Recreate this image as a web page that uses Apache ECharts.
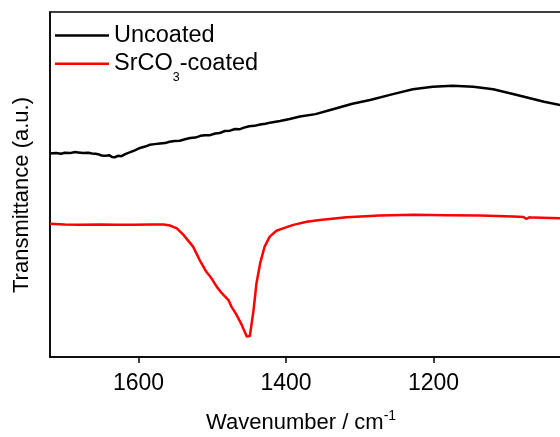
<!DOCTYPE html>
<html>
<head>
<meta charset="utf-8">
<script src="https://cdn.jsdelivr.net/npm/echarts@6/dist/echarts.min.js"></script>
<style>html,body{margin:0;padding:0;background:#fff;}#c{width:560px;height:437px;}</style>
</head>
<body>
<div id="c"></div>
<script>
const FONT = 'Liberation Sans, Arial, sans-serif';
const seriesNames = ['Uncoated', 'SrCO3-coated'];
const xTicks = [1600, 1400, 1200];
const uncoatedWn = [1720, 1712, 1705, 1700, 1693, 1686, 1682, 1675, 1668, 1663, 1658, 1655, 1650, 1645, 1640, 1636, 1632, 1628, 1623, 1618, 1612, 1605, 1598, 1591, 1585, 1578, 1571, 1564, 1558, 1551, 1544, 1537, 1530, 1523, 1516, 1510, 1503, 1496, 1490, 1483, 1476, 1469, 1463, 1458, 1450, 1443, 1435, 1428, 1420, 1408, 1395, 1381, 1360, 1340, 1310, 1286, 1255, 1228, 1201, 1174, 1146, 1119, 1095, 1069, 1050, 1028, 1010];
const uncoatedT = [59.0, 59.1, 58.9, 59.2, 59.1, 59.4, 59.3, 59.1, 59.2, 59.0, 58.9, 58.8, 58.4, 58.3, 58.5, 58.0, 57.9, 58.3, 58.2, 58.8, 59.3, 59.9, 60.6, 61.0, 61.5, 61.7, 61.9, 62.0, 62.4, 62.6, 62.7, 63.1, 63.5, 63.6, 64.1, 64.3, 64.3, 64.8, 64.9, 65.5, 65.6, 66.1, 66.0, 66.4, 66.9, 67.0, 67.4, 67.6, 68.0, 68.4, 69.0, 69.7, 70.4, 71.6, 73.4, 74.5, 76.2, 77.6, 78.3, 78.6, 78.3, 77.6, 76.4, 75.0, 74.0, 73.0, 72.2];
const coatedWn = [1720, 1700, 1680, 1652, 1630, 1607, 1584, 1566, 1557, 1548, 1539, 1526, 1517, 1508, 1501, 1494, 1487, 1478, 1474, 1467, 1460, 1453, 1449, 1444, 1440, 1435, 1429, 1422, 1413, 1404, 1390, 1372, 1354, 1318, 1273, 1227, 1182, 1137, 1092, 1078, 1074, 1070, 1065, 1028, 1010];
const coatedT = [38.6, 38.4, 38.3, 38.4, 38.3, 38.3, 38.4, 38.4, 38.1, 37.3, 35.4, 32.0, 28.1, 24.7, 22.8, 20.4, 18.5, 16.5, 14.6, 12.2, 9.3, 5.9, 6.1, 13.6, 21.4, 27.2, 32.0, 34.9, 36.6, 37.3, 38.3, 39.2, 39.7, 40.5, 41.0, 41.2, 41.1, 41.0, 40.7, 40.6, 40.0, 40.5, 40.4, 40.2, 40.1];

const zip = (a, b) => a.map((v, i) => [v, b[i]]);
const chart = echarts.init(document.getElementById('c'), null, {renderer: 'canvas'});
chart.setOption({
  animation: false,
  backgroundColor: '#fff',
  grid: {left: 50, top: 12, bottom: 80, right: -21, show: true, borderColor: '#000', borderWidth: 1.5,
    containLabel: false, outerBoundsMode: 'none'},
  legend: {
    orient: 'vertical', left: 55, top: 23.5, padding: 0, itemGap: -4.3,
    itemWidth: 54, itemHeight: 2.5, icon: 'rect',
    data: seriesNames,
    formatter: function (name) {
      if (name === 'SrCO3-coated') return '{n|SrCO}{s|3}{n|-coated}';
      return '{n|' + name + '}';
    },
    textStyle: {
      fontFamily: FONT, fontSize: 23.5, color: '#000',
      rich: {
        n: {fontFamily: FONT, fontSize: 23.5, lineHeight: 26, color: '#000'},
        s: {fontFamily: FONT, fontSize: 12.5, lineHeight: 12, padding: [28, 0, 0, 0], color: '#000'}
      }
    }
  },
  xAxis: {
    type: 'value', inverse: true, min: 1000, max: 1720, interval: 200,
    axisLine: {show: true, onZero: false, lineStyle: {color: '#000', width: 1.5}},
    axisTick: {show: true, inside: false, length: 6, lineStyle: {color: '#000', width: 1.5}},
    axisLabel: {fontFamily: FONT, fontSize: 23, color: '#000', margin: 15, showMinLabel: false, showMaxLabel: false,
      formatter: v => (xTicks.indexOf(v) >= 0 ? String(v) : '')},
    splitLine: {show: false}
  },
  yAxis: {
    type: 'value', min: 0, max: 100,
    axisLine: {show: true, lineStyle: {color: '#000', width: 1.5}},
    axisTick: {show: false}, axisLabel: {show: false}, splitLine: {show: false}
  },
  graphic: [
    {type: 'text', left: 206, top: 409, style: {
      text: '{a|Wavenumber / cm}{b|-1}',
      rich: {
        a: {fontFamily: FONT, fontSize: 22, lineHeight: 28, fill: '#000'},
        b: {fontFamily: FONT, fontSize: 14, lineHeight: 14, verticalAlign: 'top', fill: '#000'}
      }
    }},
    {type: 'text', x: 22, y: 195, rotation: Math.PI / 2, style: {
      text: 'Transmittance (a.u.)', fontFamily: FONT, fontSize: 22, fill: '#000', align: 'center', verticalAlign: 'middle'
    }}
  ],
  series: [
    {name: seriesNames[0], type: 'line', data: zip(uncoatedWn, uncoatedT), showSymbol: false, symbol: 'none',
      lineStyle: {color: '#000', width: 2.5}, itemStyle: {color: '#000'}},
    {name: seriesNames[1], type: 'line', data: zip(coatedWn, coatedT), showSymbol: false, symbol: 'none',
      lineStyle: {color: '#ff0000', width: 2.5}, itemStyle: {color: '#ff0000'}}
  ]
});
</script>
</body>
</html>
